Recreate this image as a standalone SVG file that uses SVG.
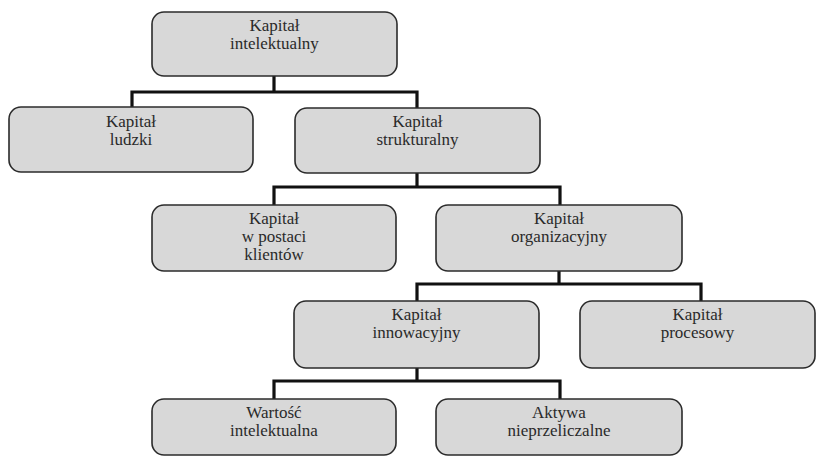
<svg xmlns="http://www.w3.org/2000/svg" width="817" height="457" viewBox="0 0 817 457">
<style>
.box{fill:#d8d8d8;stroke:#2b2b2b;stroke-width:1.6}
.lbl{font-family:"Liberation Serif","Times New Roman",serif;font-size:17px;fill:#2a2a2a;text-anchor:middle}
.con{fill:none;stroke:#111;stroke-width:3.2;stroke-linecap:square}
</style>
<rect width="817" height="457" fill="#ffffff"/>
<g id="connectors">
<path class="con" d="M274 76V92M132 92H417M132 92V107M417 92V108"/>
<path class="con" d="M417 173V187M274 187H560M274 187V205M560 187V205"/>
<path class="con" d="M559 271V284M417 284H701M417 284V301M701 284V301"/>
<path class="con" d="M417 368V381M274 381H560M274 381V399M560 381V399"/>
</g>
<g id="n-intelektualny">
<rect class="box" x="152" y="12" width="245" height="64" rx="12"/>
<text class="lbl" x="274.5" y="31">Kapitał</text>
<text class="lbl" x="274.5" y="49">intelektualny</text>
</g>
<g id="n-ludzki">
<rect class="box" x="9" y="107" width="244" height="65" rx="12"/>
<text class="lbl" x="131" y="127">Kapitał</text>
<text class="lbl" x="131" y="145">ludzki</text>
</g>
<g id="n-strukturalny">
<rect class="box" x="295" y="108" width="245" height="65" rx="12"/>
<text class="lbl" x="417.5" y="127">Kapitał</text>
<text class="lbl" x="417.5" y="145">strukturalny</text>
</g>
<g id="n-klientow">
<rect class="box" x="152" y="205" width="244" height="66" rx="12"/>
<text class="lbl" x="274" y="224">Kapitał</text>
<text class="lbl" x="274" y="242">w postaci</text>
<text class="lbl" x="274" y="260">klientów</text>
</g>
<g id="n-organizacyjny">
<rect class="box" x="436" y="205" width="246" height="66" rx="12"/>
<text class="lbl" x="559" y="224">Kapitał</text>
<text class="lbl" x="559" y="242">organizacyjny</text>
</g>
<g id="n-innowacyjny">
<rect class="box" x="294" y="301" width="245" height="67" rx="12"/>
<text class="lbl" x="416.5" y="320">Kapitał</text>
<text class="lbl" x="416.5" y="338">innowacyjny</text>
</g>
<g id="n-procesowy">
<rect class="box" x="580" y="301" width="235" height="67" rx="12"/>
<text class="lbl" x="697.5" y="320">Kapitał</text>
<text class="lbl" x="697.5" y="338">procesowy</text>
</g>
<g id="n-wartosc">
<rect class="box" x="152" y="399" width="244" height="56" rx="12"/>
<text class="lbl" x="274" y="418">Wartość</text>
<text class="lbl" x="274" y="436">intelektualna</text>
</g>
<g id="n-aktywa">
<rect class="box" x="436" y="399" width="246" height="56" rx="12"/>
<text class="lbl" x="559" y="418">Aktywa</text>
<text class="lbl" x="559" y="436">nieprzeliczalne</text>
</g>
</svg>
